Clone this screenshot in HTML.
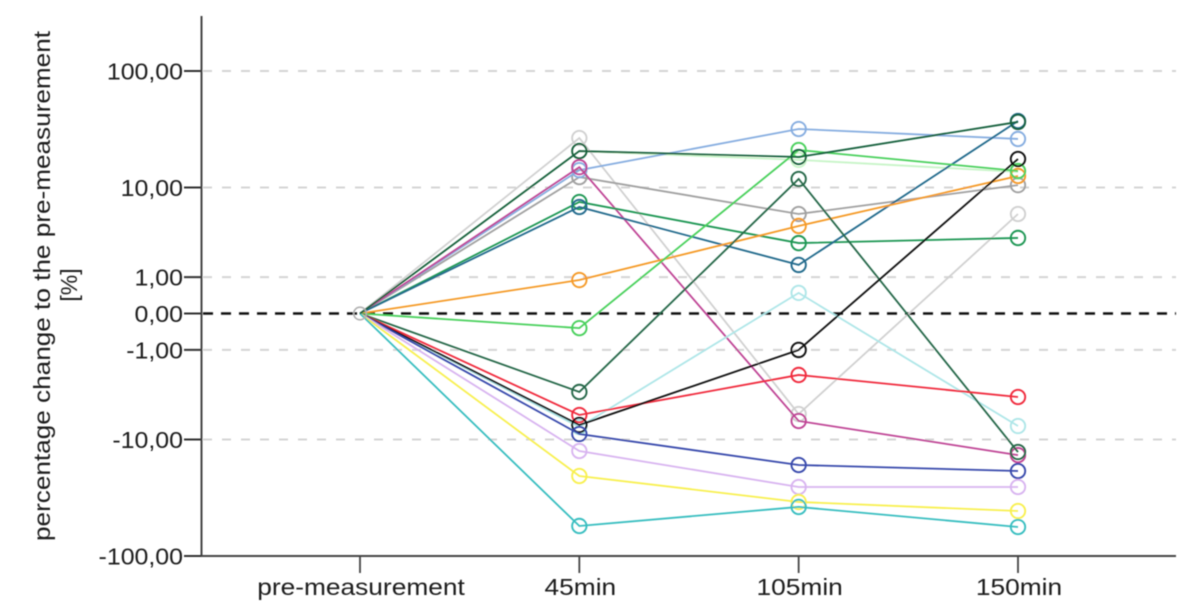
<!DOCTYPE html>
<html lang="en">
<head>
<meta charset="utf-8">
<title>Percentage change to the pre-measurement</title>
<style>
html,body{margin:0;padding:0;background:#fff;}
#chart{display:block;width:1200px;height:607px;}
text{font-family:"Liberation Sans",sans-serif;fill:#1c1c1c;}
</style>
</head>
<body>
<svg id="chart" width="1200" height="607" viewBox="0 0 1200 607" xmlns="http://www.w3.org/2000/svg">
<defs><filter id="soft" x="-5%" y="-5%" width="110%" height="110%"><feGaussianBlur stdDeviation="0.42"/></filter></defs>
<g id="root" filter="url(#soft)"></g>
</svg>
<script>
const categories = ['pre-measurement', '45min', '105min', '150min'];
const yTickValues = [100, 10, 1, 0, -1, -10, -100];
const yTickLabels = ['100,00', '10,00', '1,00', '0,00', '-1,00', '-10,00', '-100,00'];

const lightGray = [0, 27.2, -5.77, 5.64];
const paleGreen = [0, 21.0, 17.6, 13.8];
const gray = [0, 12.4, 5.64, 10.5];
const skyBlue = [0, 14.3, 32.5, 26.7];
const magenta = [0, 15.2, -6.73, -13.8];
const seaGreen = [0, 7.35, 2.82, 3.21];
const steelBlue = [0, 6.59, 1.52, 38];
const orange = [0, 0.89, 4.29, 12.7];
const brightGreen = [0, -0.32, 21.45, 14.06];
const paleCyan = [0, -7.67, 0.48, -7.51];
const forestGreen = [0, -3.45, 11.93, -12.96];
const red = [0, -5.9, -2.22, -3.9];
const black = [0, -7.35, -1.0, 17.92];
const royalBlue = [0, -8.91, -16.87, -19.03];
const lilac = [0, -12.69, -26.15, -26.15];
const yellow = [0, -21.03, -35.1, -41.9];
const teal = [0, -56, -38.7, -57.1];
const darkGreen = [0, 21.0, 18.65, 37.3];

const seriesValues = [lightGray, paleGreen, gray, skyBlue, magenta, seaGreen, steelBlue, orange, brightGreen, paleCyan, forestGreen, red, black, royalBlue, lilac, yellow, teal, darkGreen];
const seriesKeys = ['light-gray', 'pale-green', 'gray', 'sky-blue', 'magenta', 'sea-green', 'steel-blue', 'orange', 'bright-green', 'pale-cyan', 'forest-green', 'red', 'black', 'royal-blue', 'lilac', 'yellow', 'teal', 'dark-green'];
const seriesColors = ['#d0d0d0', '#c8f5c8', '#a0a0a0', '#86ade0', '#bf4595', '#1f9653', '#246a8c', '#f59a28', '#48d05c', '#aee6e8', '#256848', '#f02c3c', '#111111', '#384aac', '#d8b4f0', '#f8f050', '#38bec0', '#14603e'];

const svgNS = 'http://www.w3.org/2000/svg';
const root = document.getElementById('root');

function xScale(i) { return 360 + i * 219.33; }
function yScale(v) { return 313.5 - Math.sign(v) * 121 * Math.log10(1 + Math.abs(v)); }
function make(tag, attrs, parent) {
  const el = document.createElementNS(svgNS, tag);
  for (const k in attrs) el.setAttribute(k, attrs[k]);
  (parent || root).appendChild(el);
  return el;
}

yTickValues.forEach(function (v, i) {
  const isZero = v === 0;
  const grid = make('line', { x1: 203, x2: 1176, y1: yScale(v), y2: yScale(v), stroke: isZero ? '#111' : '#d4d4d4', 'stroke-width': isZero ? 2.6 : 2, 'stroke-dasharray': isZero ? '10 8' : '9 10' });
  
  
});

seriesValues.forEach(function (vals, s) {
  const g = make('g', { fill: 'none', stroke: seriesColors[s] });
  
  
  const pts = vals.map(function (v, i) { return xScale(i) + ',' + yScale(v); }).join(' ');
  const line = make('polyline', { points: pts, 'stroke-width': 1.8 }, g);
  
  
  vals.forEach(function (v, i) {
    if (i === 0) return;
    const c = make('circle', { cx: xScale(i), cy: yScale(v), r: 7.2, 'stroke-width': 1.9 }, g);
    
    
  });
});

const baseMarker = make('circle', { cx: xScale(0), cy: yScale(0), r: 6.3, fill: 'none', stroke: '#b0b0b0', 'stroke-width': 1.6 });



const yAxis = make('line', { x1: 201.5, x2: 201.5, y1: 16, y2: 557, stroke: '#444', 'stroke-width': 2 });


const xAxis = make('line', { x1: 201, x2: 1176, y1: 556, y2: 556, stroke: '#444', 'stroke-width': 2 });



yTickValues.forEach(function (v, i) {
  const tick = make('line', { x1: 184, x2: 201, y1: yScale(v), y2: yScale(v), stroke: '#333', 'stroke-width': 2 });
  
  
  const t = make('text', { 'font-size': 23.5, 'text-anchor': 'end', transform: 'translate(183 ' + (yScale(v) + 8.5) + ') scale(1.06 1)' });
  
  
  t.textContent = yTickLabels[i];
});

categories.forEach(function (c, i) {
  const tick = make('line', { x1: xScale(i), x2: xScale(i), y1: 556, y2: 573, stroke: '#444', 'stroke-width': 1.8 });
  
  
  const t = make('text', { 'font-size': 23.5, 'text-anchor': 'middle', transform: 'translate(' + (xScale(i) + 1) + ' 595) scale(1.12 1)' });
  
  
  t.textContent = c;
});

const title1 = make('text', { 'font-size': 23.5, 'text-anchor': 'middle', textLength: 510, lengthAdjust: 'spacingAndGlyphs', transform: 'translate(50 286) rotate(-90)' });


title1.textContent = 'percentage change to the pre-measurement';
const title2 = make('text', { 'font-size': 23, 'text-anchor': 'middle', transform: 'translate(77 285) rotate(-90)' });


title2.textContent = '[%]';
</script>
</body>
</html>
